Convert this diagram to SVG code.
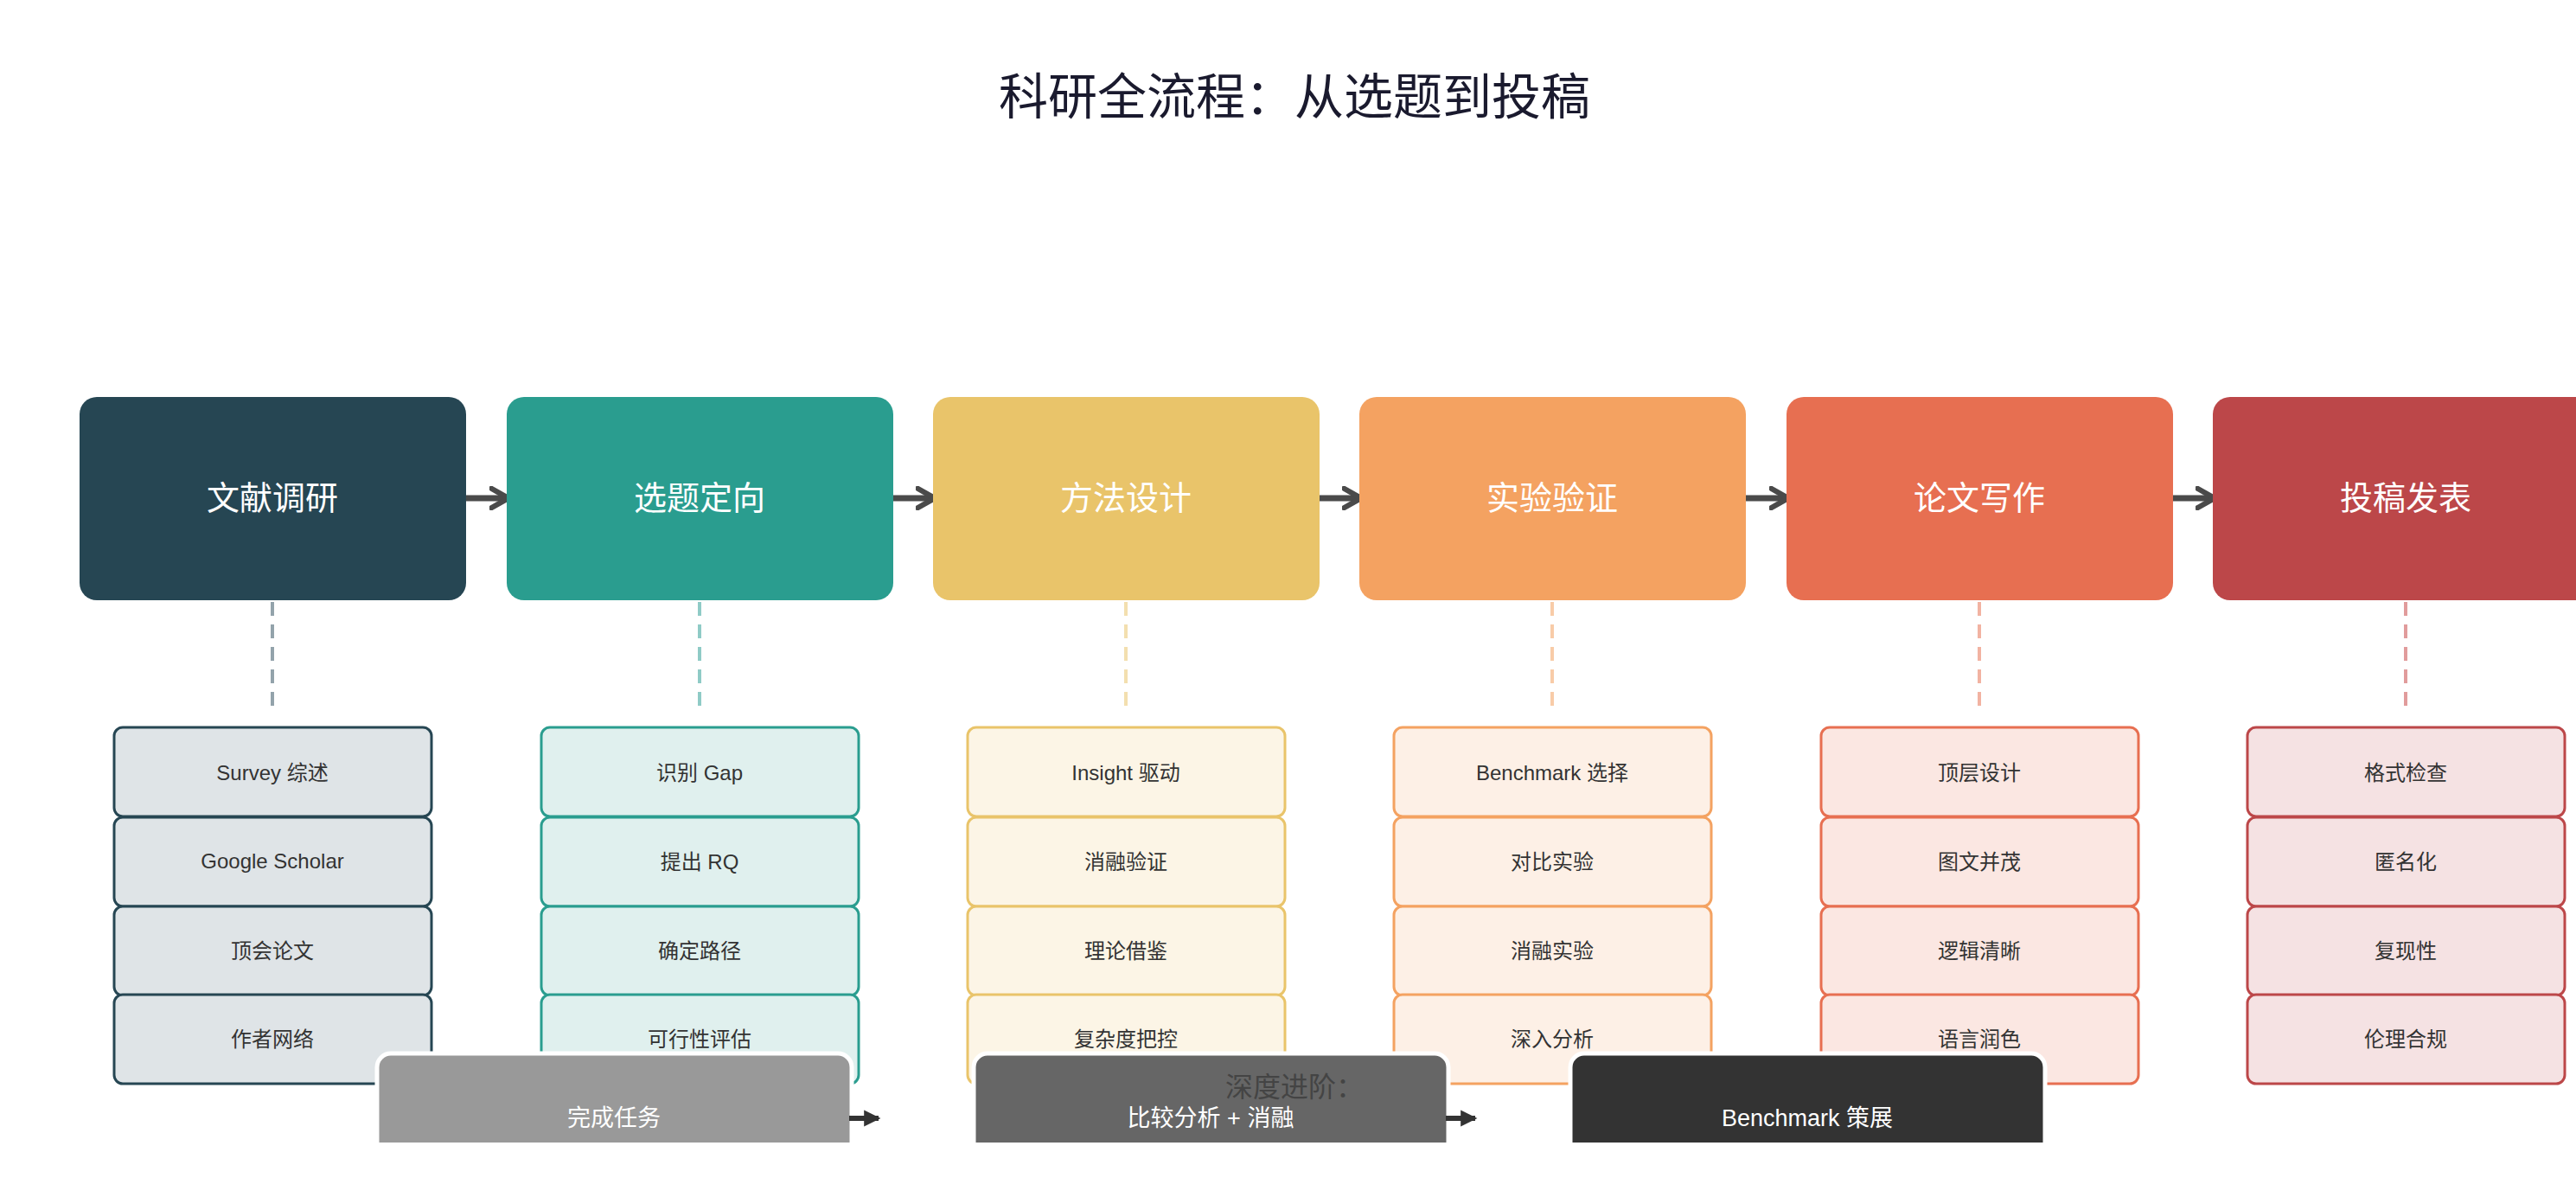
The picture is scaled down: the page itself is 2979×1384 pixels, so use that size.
<svg xmlns="http://www.w3.org/2000/svg" width="2979" height="1384" viewBox="0 0 2979 1384">
<style>
text{font-family:"Liberation Sans","Noto Sans CJK SC",sans-serif;text-anchor:middle;dominant-baseline:central}
.main{font-size:38px;fill:#fff}
.sub{font-size:24px;fill:#333}
.sb{stroke-width:3}
.dash{stroke-width:4;stroke-dasharray:16 10;fill:none}
.bot{stroke:#fff;stroke-width:5}
.bt{font-size:27px;fill:#fff}
</style>
<defs>
<marker id="ah" viewBox="0 0 10 10" refX="8" refY="5" markerWidth="4" markerHeight="4" orient="auto"><path d="M1,1 L8,5 L1,9" fill="none" stroke="#4a4a4a" stroke-width="2.2" stroke-linecap="round" stroke-linejoin="round"/></marker>
<marker id="ah2" viewBox="0 0 10 10" refX="8" refY="5" markerWidth="4" markerHeight="4" orient="auto"><path d="M1,1 L9,5 L1,9 Z" fill="#333"/></marker>
<clipPath id="cb"><rect x="0" y="0" width="2979" height="1321"/></clipPath>
</defs>
<rect width="2979" height="1384" fill="#fff"/>
<text x="1497" y="112" font-size="57" fill="#1a1a2e">科研全流程：从选题到投稿</text>

<g id="connectors">
<g stroke="#4a4a4a" stroke-width="7" marker-end="url(#ah)">
<line x1="528" y1="576" x2="588" y2="576"/>
<line x1="1021" y1="576" x2="1081" y2="576"/>
<line x1="1514" y1="576" x2="1574" y2="576"/>
<line x1="2008" y1="576" x2="2068" y2="576"/>
<line x1="2501" y1="576" x2="2561" y2="576"/>
</g>
<line class="dash" stroke="#93a3ab" x1="315" y1="696" x2="315" y2="820"/>
<line class="dash" stroke="#8fcbc6" x1="809" y1="696" x2="809" y2="820"/>
<line class="dash" stroke="#f3dfaf" x1="1302" y1="696" x2="1302" y2="820"/>
<line class="dash" stroke="#f8cca8" x1="1795" y1="696" x2="1795" y2="820"/>
<line class="dash" stroke="#f2b3a2" x1="2289" y1="696" x2="2289" y2="820"/>
<line class="dash" stroke="#e19c9c" x1="2782" y1="696" x2="2782" y2="820"/>
</g>

<g id="s1">
<rect x="92" y="459" width="447" height="235" rx="20" fill="#264653"/>
<text class="main" x="315" y="576">文献调研</text>
<g fill="#dfe4e7" stroke="#264653" class="sb">
<rect x="132" y="841" width="367" height="103" rx="10"/><rect x="132" y="945" width="367" height="103" rx="10"/><rect x="132" y="1048" width="367" height="103" rx="10"/><rect x="132" y="1150" width="367" height="103" rx="10"/></g>
<text class="sub" x="315" y="893">Survey 综述</text><text class="sub" x="315" y="995">Google Scholar</text><text class="sub" x="315" y="1099">顶会论文</text><text class="sub" x="315" y="1201">作者网络</text>
</g>
<g id="s2">
<rect x="586" y="459" width="447" height="235" rx="20" fill="#2a9d8f"/>
<text class="main" x="809" y="576">选题定向</text>
<g fill="#e0f0ee" stroke="#2a9d8f" class="sb">
<rect x="626" y="841" width="367" height="103" rx="10"/><rect x="626" y="945" width="367" height="103" rx="10"/><rect x="626" y="1048" width="367" height="103" rx="10"/><rect x="626" y="1150" width="367" height="103" rx="10"/></g>
<text class="sub" x="809" y="893">识别 Gap</text><text class="sub" x="809" y="996">提出 RQ</text><text class="sub" x="809" y="1099">确定路径</text><text class="sub" x="809" y="1201">可行性评估</text>
</g>
<g id="s3">
<rect x="1079" y="459" width="447" height="235" rx="20" fill="#e9c46a"/>
<text class="main" x="1302" y="576">方法设计</text>
<g fill="#fcf5e6" stroke="#e9c46a" class="sb">
<rect x="1119" y="841" width="367" height="103" rx="10"/><rect x="1119" y="945" width="367" height="103" rx="10"/><rect x="1119" y="1048" width="367" height="103" rx="10"/><rect x="1119" y="1150" width="367" height="103" rx="10"/></g>
<text class="sub" x="1302" y="893">Insight 驱动</text><text class="sub" x="1302" y="996">消融验证</text><text class="sub" x="1302" y="1099">理论借鉴</text><text class="sub" x="1302" y="1201">复杂度把控</text>
</g>
<g id="s4">
<rect x="1572" y="459" width="447" height="235" rx="20" fill="#f4a261"/>
<text class="main" x="1795" y="576">实验验证</text>
<g fill="#fdf0e6" stroke="#f4a261" class="sb">
<rect x="1612" y="841" width="367" height="103" rx="10"/><rect x="1612" y="945" width="367" height="103" rx="10"/><rect x="1612" y="1048" width="367" height="103" rx="10"/><rect x="1612" y="1150" width="367" height="103" rx="10"/></g>
<text class="sub" x="1795" y="893">Benchmark 选择</text><text class="sub" x="1795" y="996">对比实验</text><text class="sub" x="1795" y="1099">消融实验</text><text class="sub" x="1795" y="1201">深入分析</text>
</g>
<g id="s5">
<rect x="2066" y="459" width="447" height="235" rx="20" fill="#e76f51"/>
<text class="main" x="2289" y="576">论文写作</text>
<g fill="#fbe7e2" stroke="#e76f51" class="sb">
<rect x="2106" y="841" width="367" height="103" rx="10"/><rect x="2106" y="945" width="367" height="103" rx="10"/><rect x="2106" y="1048" width="367" height="103" rx="10"/><rect x="2106" y="1150" width="367" height="103" rx="10"/></g>
<text class="sub" x="2289" y="893">顶层设计</text><text class="sub" x="2289" y="996">图文并茂</text><text class="sub" x="2289" y="1099">逻辑清晰</text><text class="sub" x="2289" y="1201">语言润色</text>
</g>
<g id="s6">
<rect x="2559" y="459" width="447" height="235" rx="20" fill="#bc4749"/>
<text class="main" x="2782" y="576">投稿发表</text>
<g fill="#f5e2e3" stroke="#bc4749" class="sb">
<rect x="2599" y="841" width="367" height="103" rx="10"/><rect x="2599" y="945" width="367" height="103" rx="10"/><rect x="2599" y="1048" width="367" height="103" rx="10"/><rect x="2599" y="1150" width="367" height="103" rx="10"/></g>
<text class="sub" x="2782" y="893">格式检查</text><text class="sub" x="2782" y="996">匿名化</text><text class="sub" x="2782" y="1099">复现性</text><text class="sub" x="2782" y="1201">伦理合规</text>
</g>

<g id="bottom" clip-path="url(#cb)">
<g id="b1"><rect class="bot" x="436" y="1218" width="549" height="160" rx="16" fill="#999"/><text class="bt" x="710" y="1293">完成任务</text></g>
<g id="b2"><rect class="bot" x="1126" y="1218" width="549" height="160" rx="16" fill="#666"/><text class="bt" x="1400" y="1293">比较分析 + 消融</text></g>
<g id="b3"><rect class="bot" x="1816" y="1218" width="549" height="160" rx="16" fill="#333"/><text class="bt" x="2090" y="1293">Benchmark 策展</text></g>
</g>
<g id="connectors2" stroke="#333" stroke-width="6" marker-end="url(#ah2)">
<line x1="982" y1="1293" x2="1016" y2="1293"/>
<line x1="1672" y1="1293" x2="1706" y2="1293"/>
</g>
<text x="1497" y="1257" font-size="32" fill="#444">深度进阶：</text>
</svg>
